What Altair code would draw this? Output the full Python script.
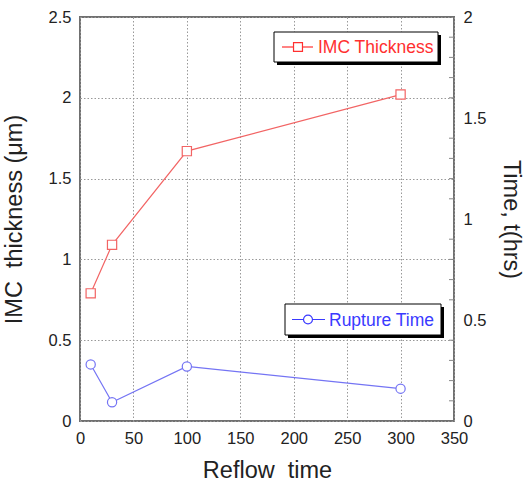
import altair as alt
import pandas as pd

reflow = [10, 30, 100, 300]
imc = [0.79, 1.09, 1.67, 2.02]
rupture = [0.28, 0.093, 0.27, 0.16]
minor_ticks = [0.1, 0.2, 0.3, 0.4, 0.6, 0.7, 0.8, 0.9, 1.1, 1.2, 1.3, 1.4, 1.6, 1.7, 1.8, 1.9]

W, H = 374, 404
FONT = "Liberation Sans"
RED = "#f26464"
BLUE = "#7474f4"
NB = "\u00a0"

df = pd.DataFrame({"reflow": reflow, "imc": imc, "rupture": rupture})
df_minor = pd.DataFrame({"m": minor_ticks})

xenc = alt.X("reflow:Q", scale=alt.Scale(domain=[0, 350], nice=False),
             axis=alt.Axis(values=[0, 50, 100, 150, 200, 250, 300, 350],
                           title="Reflow" + NB + NB + "time", titlePadding=12, labelFlush=False))

left_axis = alt.Axis(values=[0, 0.5, 1, 1.5, 2, 2.5], format="~g",
                     title="IMC" + NB + NB + "thickness" + NB + "(μm)", titlePadding=22)
right_axis = alt.Axis(values=[0, 0.5, 1, 1.5, 2], format="~g", title="Time, t(hrs)",
                      orient="right", titlePadding=13)

base = alt.Chart(df)
red_line = base.mark_line(color=RED, strokeWidth=1.2).encode(
    x=xenc, y=alt.Y("imc:Q", scale=alt.Scale(domain=[0, 2.5], nice=False), axis=left_axis))
red_pts = base.mark_point(shape="square", color=RED, fill="white", filled=True, stroke=RED,
                          strokeWidth=1.2, size=85, opacity=1).encode(
    x="reflow:Q", y="imc:Q")
red = alt.layer(red_line, red_pts)

blue_line = base.mark_line(color=BLUE, strokeWidth=1.2).encode(
    x="reflow:Q", y=alt.Y("rupture:Q", scale=alt.Scale(domain=[0, 2], nice=False), axis=right_axis))
blue_pts = base.mark_point(shape="circle", fill="white", filled=True, stroke=BLUE,
                           strokeWidth=1.2, size=85, opacity=1).encode(
    x="reflow:Q", y="rupture:Q")
minor = alt.Chart(df_minor).mark_rule(color="#888", strokeWidth=1).encode(
    x=alt.value(W - 5), x2=alt.value(W), y="m:Q")
blue = alt.layer(blue_line, blue_pts, minor)

one = pd.DataFrame({"a": [0]})


def legend(x0, x1, y0, y1, lx0, lx1, mx, tx, label, color, shape):
    c = alt.Chart(one)
    shadow = c.mark_rect(color="black").encode(
        x=alt.value(x0 + 3), x2=alt.value(x1 + 3), y=alt.value(y0 + 3), y2=alt.value(y1 + 3))
    box = c.mark_rect(fill="white", stroke="black", strokeWidth=1).encode(
        x=alt.value(x0), x2=alt.value(x1), y=alt.value(y0), y2=alt.value(y1))
    ym = (y0 + y1) / 2
    ln = c.mark_rule(color=color, strokeWidth=1.2).encode(
        x=alt.value(lx0), x2=alt.value(lx1), y=alt.value(ym))
    pt = c.mark_point(shape=shape, fill="white", filled=True, stroke=color, strokeWidth=1.2,
                      size=80, opacity=1).encode(x=alt.value(mx), y=alt.value(ym))
    tx_ = c.mark_text(align="left", baseline="middle", font=FONT, fontSize=17.5, color=color).encode(
        x=alt.value(tx), y=alt.value(ym + 1), text=alt.value(label))
    return [shadow, box, ln, pt, tx_]


leg1 = legend(194, 358, 15, 45, 202, 233, 218, 238, "IMC Thickness", "#ff3030", "square")
leg2 = legend(205, 361, 287, 318, 212, 245, 228, 249, "Rupture Time", "#3a3aff", "circle")

chart = alt.layer(red, blue, *leg1, *leg2).resolve_scale(y="independent").properties(
    width=W, height=H,
    autosize=alt.AutoSizeParams(type="none"),
    padding={"left": 80, "top": 17, "right": 78, "bottom": 61},
).configure_view(
    stroke="#707070", strokeWidth=2
).configure_axis(
    labelFont=FONT, titleFont=FONT, labelFontSize=16.5, titleFontSize=23.5,
    labelColor="#222", titleColor="#222", titleFontWeight="normal",
    domain=False, ticks=False, labelPadding=9,
    grid=True, gridColor="#999", gridDash=[1.5, 2], gridWidth=1,
)

chart.save("out.html", embed_options={"renderer": "svg", "actions": False})
